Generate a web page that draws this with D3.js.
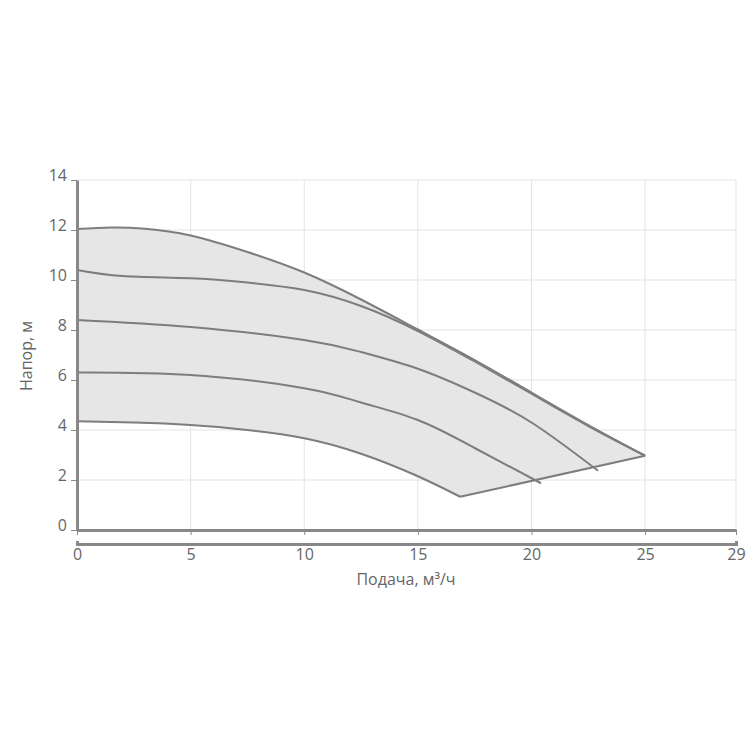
<!DOCTYPE html>
<html>
<head>
<meta charset="utf-8">
<script src="https://cdn.jsdelivr.net/npm/d3@7"></script>
<style>
  body { margin: 0; background: #fff; }
  text { font-family: "Open Sans", sans-serif; fill: #666; }
  .grid line { stroke: #e3e3e3; stroke-width: 1; }
  .curve { fill: none; stroke: #7d7d7d; stroke-width: 2; }
</style>
</head>
<body>
<svg width="750" height="750"></svg>
<script>
// pump curves: flow (m3/h) and head (m)
const topQ = [0, 1.5, 3, 5, 7.5, 10, 12.5, 15, 17.5, 20, 22.5, 25];
const topH = [12.04, 12.1, 12.05, 11.78, 11.12, 10.3, 9.22, 8.02, 6.8, 5.5, 4.2, 2.97];

const c2Q = [0, 2, 5, 7.5, 10, 12.5, 15, 17.5, 20, 22.5, 25];
const c2H = [10.4, 10.16, 10.07, 9.9, 9.6, 8.96, 7.96, 6.74, 5.45, 4.16, 2.97];

const c3Q = [0, 5, 10, 12.5, 15, 17.5, 20, 22.93];
const c3H = [8.4, 8.12, 7.6, 7.12, 6.45, 5.5, 4.3, 2.37];

const c4Q = [0, 5, 10, 12.5, 15, 17.5, 20.42];
const c4H = [6.3, 6.2, 5.67, 5.1, 4.4, 3.28, 1.87];

const c5Q = [0, 2.5, 5, 7.5, 10, 12.5, 15, 16.86];
const c5H = [4.35, 4.3, 4.2, 4.0, 3.67, 3.05, 2.15, 1.33];

const xTicks = [0, 5, 10, 15, 20, 25, 29];
const yTicks = [0, 2, 4, 6, 8, 10, 12, 14];

const svg = d3.select('svg');

const x = d3.scaleLinear().domain([0, 29]).range([77, 736]);
const y = d3.scaleLinear().domain([0, 14]).range([530, 180]);

const zip = (qs, hs) => qs.map((q, i) => [q, hs[i]]);

// grid
const grid = svg.append('g').attr('class', 'grid');
grid.selectAll('.h').data(yTicks.slice(1)).enter().append('line')
  .attr('x1', x(0)).attr('x2', x(29))
  .attr('y1', d => y(d)).attr('y2', d => y(d));
grid.selectAll('.v').data(xTicks.slice(1)).enter().append('line')
  .attr('x1', d => x(d)).attr('x2', d => x(d))
  .attr('y1', y(0)).attr('y2', y(14));

const line = d3.line()
  .x(d => x(d[0]))
  .y(d => y(d[1]))
  .curve(d3.curveNatural);

// shaded working area
const topPts = zip(topQ, topH);
const lowPts = zip(c5Q, c5H).reverse();
svg.append('path')
  .attr('d', line(topPts) + line(lowPts).replace(/^M/, 'L') + 'Z')
  .attr('fill', '#e6e6e6');

// curves
[zip(c2Q, c2H), zip(c3Q, c3H), zip(c4Q, c4H), zip(c5Q, c5H), topPts].forEach(pts => {
  svg.append('path').attr('class', 'curve').attr('d', line(pts));
});

// line through curve end points
svg.append('line').attr('class', 'curve')
  .attr('x1', x(16.86)).attr('y1', y(1.33))
  .attr('x2', x(25)).attr('y2', y(2.97));

// axes
const styleAxis = g => {
  g.select('.domain').attr('stroke', '#888').attr('stroke-width', 3);
  g.selectAll('.tick line').attr('stroke', '#888');
  g.selectAll('.tick text').style('font-size', '16px').attr('fill', '#666');
};

svg.append('g')
  .attr('transform', `translate(0,${y(0)})`)
  .call(d3.axisBottom(x).tickValues(xTicks).tickSize(5).tickSizeOuter(0).tickFormat(''))
  .call(styleAxis);

svg.append('g')
  .attr('transform', 'translate(0,544)')
  .call(d3.axisBottom(x).tickValues(xTicks).tickSize(0).tickSizeOuter(-3).tickPadding(4))
  .call(styleAxis)
  .call(g => g.selectAll('.tick text').attr('dy', '0.75em'));

svg.append('g')
  .attr('transform', `translate(${x(0)},0)`)
  .call(d3.axisLeft(y).tickValues(yTicks).tickSize(6).tickSizeOuter(0).tickPadding(4))
  .call(styleAxis)
  .call(g => g.selectAll('.tick text').attr('dy', '0.05em'));

// titles
svg.append('text')
  .attr('x', 406).attr('y', 585)
  .attr('text-anchor', 'middle')
  .style('font-size', '16px')
  .text('Подача, м³/ч');

svg.append('text')
  .attr('transform', 'translate(32,356) rotate(-90)')
  .attr('text-anchor', 'middle')
  .style('font-size', '16px')
  .text('Напор, м');
</script>
</body>
</html>
